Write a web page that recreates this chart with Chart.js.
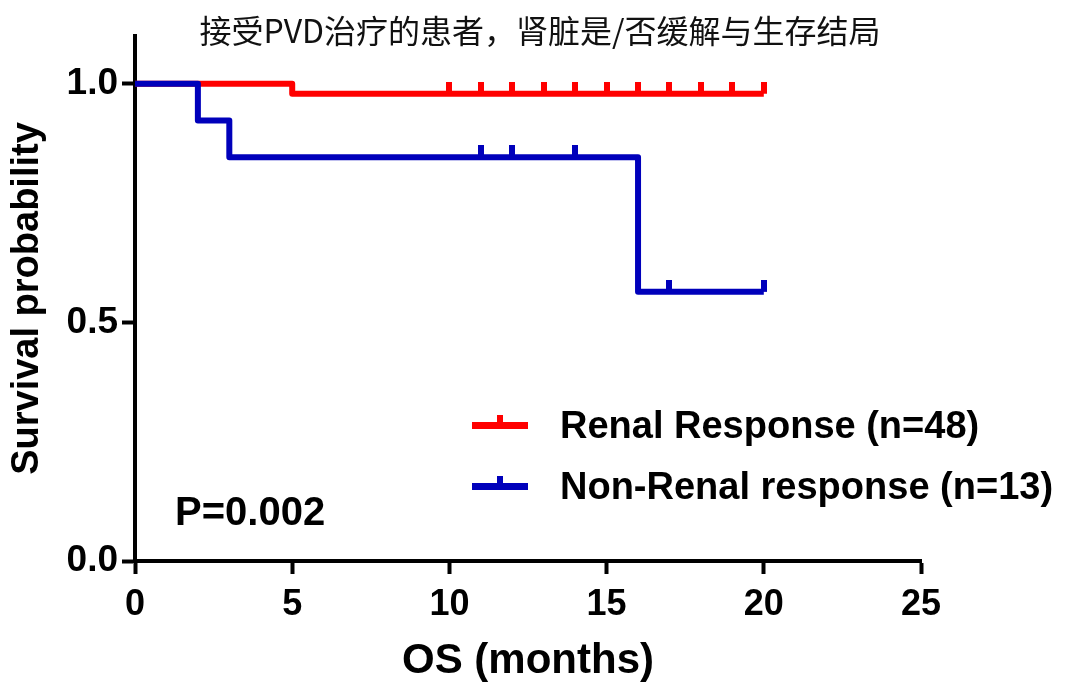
<!DOCTYPE html>
<html>
<head>
<meta charset="utf-8">
<script src="https://cdn.jsdelivr.net/npm/chart.js@4.4.1/dist/chart.umd.min.js"></script>
<style>
  html, body { margin: 0; padding: 0; background: #ffffff; }
  #wrap { width: 1080px; height: 693px; position: relative; }
</style>
</head>
<body>
<div id="wrap"><canvas id="c" width="1080" height="693"></canvas></div>
<script>
// ---- data ----
const chartTitle = '接受PVD治疗的患者，肾脏是/否缓解与生存结局';
const seriesNames = ['Renal Response (n=48)', 'Non-Renal response (n=13)'];
const redTimes = [0, 5, 20];
const redSurv = [1.0, 0.979, 0.979];
const blueTimes = [0, 2, 3, 16, 20];
const blueSurv = [1.0, 0.923, 0.846, 0.564, 0.564];
const redCensor = [10, 11, 12, 13, 14, 15, 16, 17, 18, 19, 20];
const blueCensor = [11, 12, 14, 17, 20];
const xTicks = [0, 5, 10, 15, 20, 25];
const yTicks = [0, 0.5, 1.0];
const pValueText = 'P=0.002';
const xTitle = 'OS (months)';
const yTitle = 'Survival probability';

const RED = '#ff0000';
const BLUE = '#0000bb';
const FONT = "'Liberation Sans', Arial, sans-serif";

function toPoints(xs, ys) { return xs.map((x, i) => ({ x: x, y: ys[i] })); }
function survAt(xs, ys, t) {
  let s = ys[0];
  for (let i = 0; i < xs.length; i++) { if (xs[i] <= t) s = ys[i]; }
  return s;
}
function censorPoints(cs, xs, ys) { return cs.map(t => ({ x: t, y: survAt(xs, ys, t) })); }

function tickMark(color) {
  const cv = document.createElement('canvas');
  cv.width = 6; cv.height = 24;
  const g = cv.getContext('2d');
  g.fillStyle = color;
  g.fillRect(0, 0, 6, 12);
  return cv;
}

const overlay = {
  id: 'overlay',
  afterDraw(chart) {
    const ctx = chart.ctx;
    ctx.save();
    // title
    ctx.fillStyle = '#111';
    ctx.font = "32px 'Noto Sans CJK SC', sans-serif";
    ctx.textAlign = 'center';
    ctx.textBaseline = 'middle';
    ctx.fillText(chartTitle, 540, 31);
    // legend
    const items = [[RED, 425, seriesNames[0]], [BLUE, 486, seriesNames[1]]];
    items.forEach(([col, y, txt]) => {
      ctx.fillStyle = col;
      ctx.fillRect(472, y - 3, 56, 7);
      ctx.fillRect(497, y - 10, 6, 8);
      ctx.fillStyle = '#000';
      ctx.font = 'bold 38px ' + FONT;
      ctx.textAlign = 'left';
      ctx.textBaseline = 'middle';
      ctx.fillText(txt, 560, y + 3);
    });
    // p value
    ctx.font = 'bold 40px ' + FONT;
    ctx.fillText(pValueText, 175, 514);
    ctx.restore();
  }
};

new Chart(document.getElementById('c'), {
  type: 'line',
  data: {
    datasets: [
      { data: toPoints(redTimes, redSurv), borderColor: RED, borderWidth: 6, stepped: true,
        pointRadius: 0, fill: false, borderJoinStyle: 'round', borderCapStyle: 'butt', order: 2 },
      { data: toPoints(blueTimes, blueSurv), borderColor: BLUE, borderWidth: 6, stepped: true,
        pointRadius: 0, fill: false, borderJoinStyle: 'round', borderCapStyle: 'butt', order: 1 },
      { data: censorPoints(redCensor, redTimes, redSurv), showLine: false, pointStyle: tickMark(RED),
        pointRadius: 3, order: 0 },
      { data: censorPoints(blueCensor, blueTimes, blueSurv), showLine: false, pointStyle: tickMark(BLUE),
        pointRadius: 3, order: 0 }
    ]
  },
  options: {
    responsive: false,
    animation: false,
    events: [],
    layout: { padding: { top: 36, right: 159, bottom: 0, left: 0 } },
    plugins: { legend: { display: false }, tooltip: { enabled: false }, title: { display: false } },
    scales: {
      x: {
        type: 'linear', min: 0, max: 25,
        afterBuildTicks(s) { s.ticks = xTicks.map(v => ({ value: v })); },
        afterFit(s) { s.height = 132; },
        ticks: { color: '#000', font: { family: FONT, size: 36, weight: 'bold' }, padding: 9, maxRotation: 0 },
        grid: { display: true, drawOnChartArea: false, drawTicks: true, tickLength: 13, tickWidth: 4, tickColor: '#000' },
        border: { display: true, color: '#000', width: 4 },
        title: { display: true, text: xTitle, color: '#000', font: { family: FONT, size: 42, weight: 'bold' }, padding: { top: 0, bottom: 6 } }
      },
      y: {
        type: 'linear', min: 0, max: 1.1,
        afterBuildTicks(s) { s.ticks = yTicks.map(v => ({ value: v })); },
        afterFit(s) { s.width = 135; },
        ticks: { color: '#000', font: { family: FONT, size: 37, weight: 'bold' }, padding: 4,
                 callback: v => Number(v).toFixed(1) },
        grid: { display: true, drawOnChartArea: false, drawTicks: true, tickLength: 13, tickWidth: 4, tickColor: '#000' },
        border: { display: true, color: '#000', width: 4 },
        title: { display: true, text: yTitle, color: '#000', font: { family: FONT, size: 38, weight: 'bold' }, padding: { top: 5, bottom: 0 } }
      }
    }
  },
  plugins: [overlay]
});
</script>
</body>
</html>
